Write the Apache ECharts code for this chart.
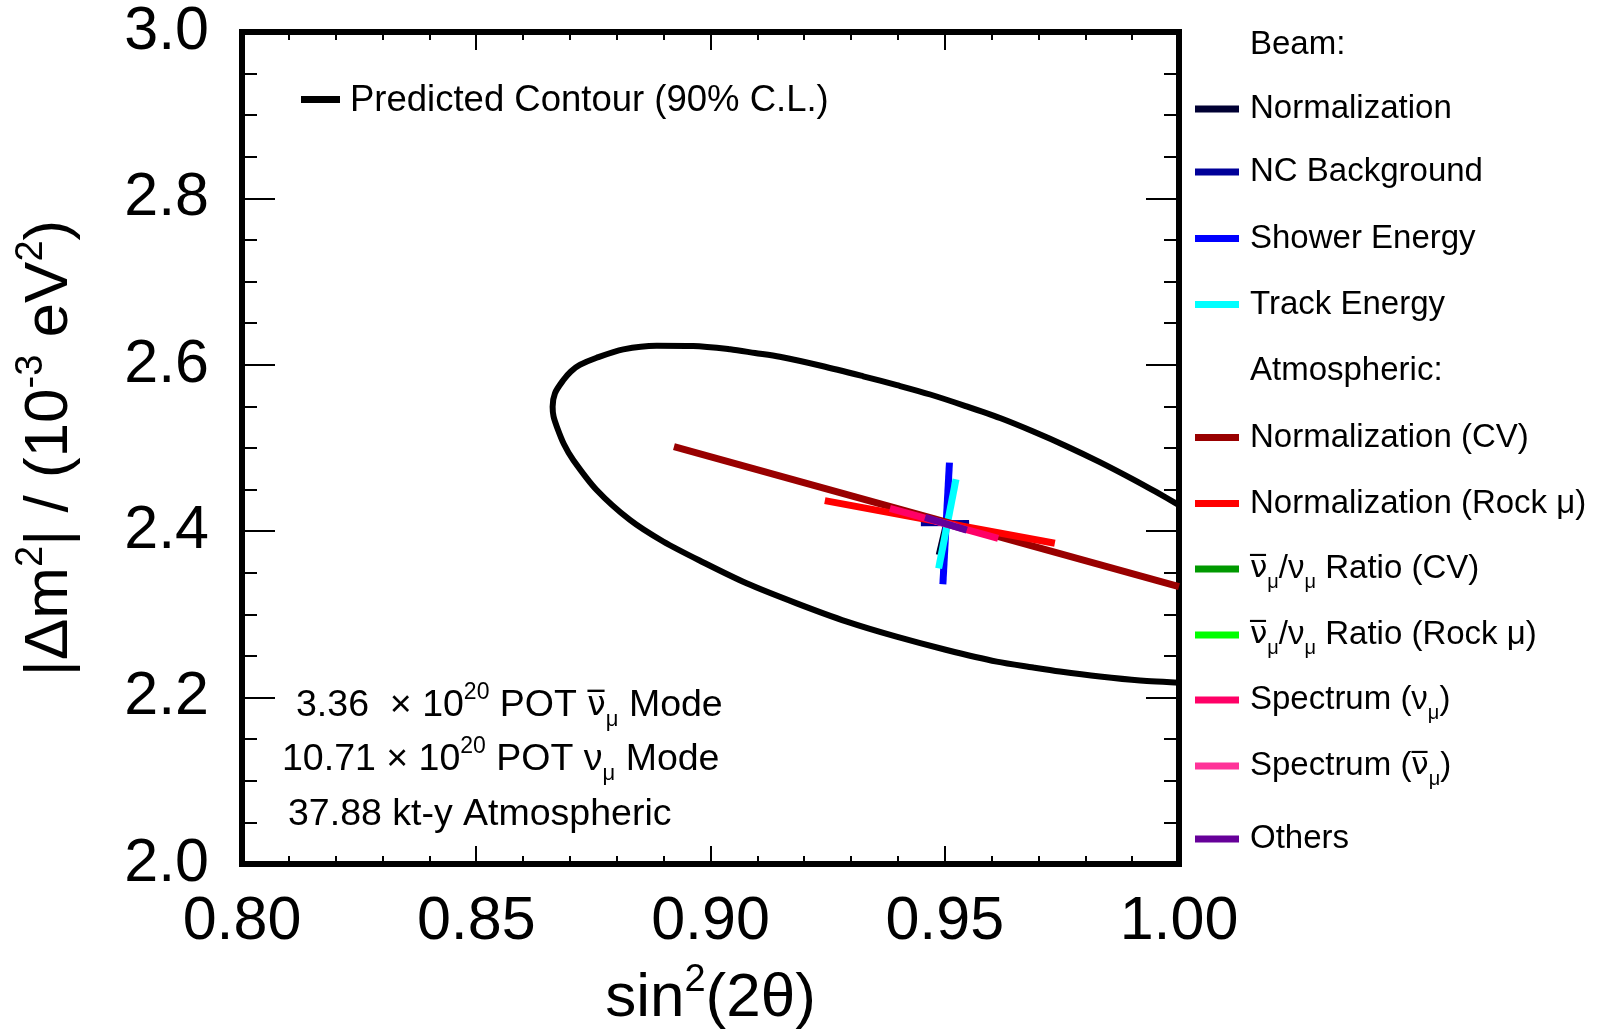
<!DOCTYPE html>
<html><head><meta charset="utf-8">
<script src="https://cdn.jsdelivr.net/npm/echarts@6/dist/echarts.min.js"></script>
<style>html,body{margin:0;padding:0;background:#fff}#c{width:1599px;height:1033px}</style>
</head><body><div id="c"></div>
<script>
const FONT = '"Liberation Sans", Arial, Helvetica, sans-serif';
const NBFONT = '"DejaVu Sans", "Liberation Sans", sans-serif';

// ---- tick labels ----
const xTickLabels = ['0.80', '0.85', '0.90', '0.95', '1.00'];
const yTickLabels = ['2.0', '2.2', '2.4', '2.6', '2.8', '3.0'];

// ---- predicted 90% C.L. contour (upper branch right->left, then lower branch left->right) ----
const contourX = [1.0000, 0.9952, 0.9902, 0.9831, 0.9760, 0.9689, 0.9618, 0.9543, 0.9469, 0.9398, 0.9326, 0.9238,
                  0.9148, 0.9095, 0.9042, 0.8963, 0.8885, 0.8814, 0.8757, 0.8721, 0.8702, 0.8686, 0.8668, 0.8663,
                  0.8665, 0.8672, 0.8687, 0.8707, 0.8757, 0.8828, 0.8899, 0.8985, 0.9077, 0.9184, 0.9291, 0.9397,
                  0.9504, 0.9611, 0.9689, 0.9746, 0.9831, 0.9917, 1.0000];
const contourY = [2.4314, 2.4469, 2.4624, 2.4831, 2.5022, 2.5198, 2.5360, 2.5507, 2.5643, 2.5755, 2.5862, 2.5986,
                  2.6097, 2.6142, 2.6186, 2.6226, 2.6230, 2.6186, 2.6085, 2.5998, 2.5920, 2.5817, 2.5658, 2.5496,
                  2.5379, 2.5256, 2.5048, 2.4856, 2.4495, 2.4135, 2.3876, 2.3624, 2.3374, 2.3133, 2.2913, 2.2732,
                  2.2572, 2.2432, 2.2362, 2.2314, 2.2254, 2.2206, 2.2179];

// ---- systematic shifts (segment end points) ----
const sysNames = ['Beam Normalization', 'NC Background', 'Shower Energy', 'Track Energy',
                  'Atm. Normalization (CV)', 'Atm. Normalization (Rock mu)', 'Ratio (CV)', 'Ratio (Rock mu)',
                  'Spectrum (numu)', 'Spectrum (numubar)', 'Others'];
const sysX = [[0.9484, 0.9500], [0.9449, 0.9552], [0.9510, 0.9496], [0.9524, 0.9487],
              [0.8922, 1.0000], [0.9244, 0.9735], [0.9501, 0.9501], [0.9501, 0.9501],
              [0.9383, 0.9614], [0.9480, 0.9525], [0.9458, 0.9547]];
const sysY = [[2.3720, 2.4100], [2.4095, 2.4100], [2.4824, 2.3362], [2.4624, 2.3554],
              [2.5016, 2.3333], [2.4367, 2.3855], [2.4095, 2.4095], [2.4095, 2.4095],
              [2.4275, 2.3915], [2.4125, 2.4055], [2.4167, 2.4014]];
// legend labels (rich text)
const sysLabels = ['{t|Normalization}', '{t|NC Background}', '{t|Shower Energy}', '{t|Track Energy}',
                   '{t|Normalization (CV)}', '{t|Normalization (Rock μ)}',
                   '{nb|ν\u0305}{s|μ}{t|/ν}{s|μ}{t| Ratio (CV)}', '{nb|ν\u0305}{s|μ}{t|/ν}{s|μ}{t| Ratio (Rock μ)}',
                   '{t|Spectrum (ν}{s|μ}{t|)}', '{t|Spectrum (}{nb|ν\u0305}{s|μ}{t|)}', '{t|Others}'];
const legendRows = ['Beam:', 0, 1, 2, 3, 'Atmospheric:', 4, 5, 6, 7, 8, 9, 10];

// ---- annotation texts ----
const contourLabel = 'Predicted Contour (90% C.L.)';
const infoLines = ['{t|3.36  × 10}{sup|20}{t| POT }{nb|ν\u0305}{sub|μ}{t| Mode}',
                   '{t|10.71 × 10}{sup|20}{t| POT ν}{sub|μ}{t| Mode}',
                   '{t|37.88 kt-y Atmospheric}'];

// ---- styles / layout ----
const sysColors = ['#000033', '#000099', '#0000ff', '#00ffff', '#990000', '#ff0000', '#009900', '#00ff00', '#ff0066', '#ff3399', '#660099'];
const sysWidths = [3, 6, 7, 7, 7, 7, 7, 7, 7, 7, 7];
const legendRowY = [44.5, 109, 172, 238.5, 304.5, 370.5, 437.5, 503.5, 569, 635, 700, 766, 839];

const chart = echarts.init(document.getElementById('c'), null, {renderer: 'canvas'});

function axisCommon(isX, showLabels) {
  return {
    type: 'value',
    min: isX ? 0.8 : 2.0,
    max: isX ? 1.0 : 3.0,
    interval: isX ? 0.05 : 0.2,
    axisLine: {show: true, lineStyle: {color: '#000', width: 6, cap: 'square'}},
    axisTick: {show: true, inside: true, length: isX ? 18 : 33, lineStyle: {color: '#000', width: 2}},
    minorTick: {show: true, splitNumber: isX ? 5 : 4, length: isX ? 8 : 15, lineStyle: {color: '#000', width: 2}},
    splitLine: {show: false},
    minorSplitLine: {show: false},
    axisLabel: {
      show: showLabels,
      fontSize: 61, fontFamily: FONT, color: '#000',
      margin: isX ? 28 : 33,
      showMinLabel: true, showMaxLabel: true,
      formatter: function (v) {
        if (isX) return xTickLabels[Math.round((v - 0.8) / 0.05)] || '';
        return yTickLabels[Math.round((v - 2.0) / 0.2)] || '';
      }
    }
  };
}

const titleRich = {
  t: {fontFamily: FONT, fontSize: 62, lineHeight: 74, color: '#000'},
  sup: {fontFamily: FONT, fontSize: 38, lineHeight: 38, verticalAlign: 'top', color: '#000'}
};
const xBottom = Object.assign(axisCommon(true, true), {
  position: 'bottom',
  name: '{t|sin}{sup|2}{t|(2θ)}',
  nameLocation: 'middle', nameGap: 98,
  nameTextStyle: {fontFamily: FONT, fontSize: 62, color: '#000', rich: titleRich}
});
const xTop = Object.assign(axisCommon(true, false), {position: 'top'});
const yLeft = Object.assign(axisCommon(false, true), {
  position: 'left',
  name: '{t||Δm}{sup|2}{t|| / (10}{sup|-3}{t| eV}{sup|2}{t|)}',
  nameLocation: 'middle', nameGap: 155, nameRotate: 90,
  nameTextStyle: {fontFamily: FONT, fontSize: 62, color: '#000', rich: titleRich}
});
const yRight = Object.assign(axisCommon(false, false), {position: 'right'});

const series = [{
  name: 'Predicted Contour',
  type: 'line',
  data: contourX.map((x, i) => [x, contourY[i]]),
  showSymbol: false, symbol: 'none',
  smooth: 0.3,
  lineStyle: {color: '#000', width: 6},
  z: 2, silent: true
}];
sysNames.forEach((n, i) => {
  series.push({
    name: n, type: 'line',
    data: [[sysX[i][0], sysY[i][0]], [sysX[i][1], sysY[i][1]]],
    showSymbol: false, symbol: 'none',
    lineStyle: {color: sysColors[i], width: sysWidths[i], cap: 'butt'},
    z: 3 + i, silent: true
  });
});

// ---- graphic: legend & annotations ----
const legendTextRich = {
  t: {fontFamily: FONT, fontSize: 33, lineHeight: 46, color: '#000'},
  nb: {fontFamily: NBFONT, fontSize: 31, lineHeight: 46, color: '#000'},
  s: {fontFamily: FONT, fontSize: 20, lineHeight: 20, verticalAlign: 'bottom', color: '#000'}
};
const graphics = [];
legendRows.forEach((r, k) => {
  const y = legendRowY[k];
  if (typeof r === 'string') {
    graphics.push({type: 'text', x: 1250, y: y, style: {
      text: '{t|' + r + '}', rich: legendTextRich, align: 'left', verticalAlign: 'middle',
      textAlign: 'left', textVerticalAlign: 'middle'}});
  } else {
    graphics.push({type: 'line', shape: {x1: 1195, y1: y, x2: 1239, y2: y},
      style: {stroke: sysColors[r], lineWidth: 7}});
    graphics.push({type: 'text', x: 1250, y: y, style: {
      text: sysLabels[r], rich: legendTextRich, align: 'left', verticalAlign: 'middle',
      textAlign: 'left', textVerticalAlign: 'middle'}});
  }
});
graphics.push({type: 'line', shape: {x1: 301, y1: 99.5, x2: 340, y2: 99.5}, style: {stroke: '#000', lineWidth: 7}});
graphics.push({type: 'text', x: 350, y: 101, style: {
  text: '{t|' + contourLabel + '}',
  rich: {t: {fontFamily: FONT, fontSize: 36.5, lineHeight: 44, color: '#000'}},
  align: 'left', verticalAlign: 'middle', textAlign: 'left', textVerticalAlign: 'middle'}});
const infoRich = {
  t: {fontFamily: FONT, fontSize: 37.5, lineHeight: 50, color: '#000'},
  nb: {fontFamily: NBFONT, fontSize: 33, lineHeight: 50, color: '#000'},
  sup: {fontFamily: FONT, fontSize: 23, lineHeight: 23, verticalAlign: 'top', color: '#000'},
  sub: {fontFamily: FONT, fontSize: 22, lineHeight: 22, verticalAlign: 'bottom', color: '#000'}
};
const infoPos = [[296, 706], [282, 760], [288, 815]];
infoLines.forEach((s, i) => {
  graphics.push({type: 'text', x: infoPos[i][0], y: infoPos[i][1], style: {
    text: s, rich: infoRich, align: 'left', verticalAlign: 'middle',
    textAlign: 'left', textVerticalAlign: 'middle'}});
});

chart.setOption({
  animation: false,
  backgroundColor: '#fff',
  grid: {left: 242, right: 420, top: 32, bottom: 169, containLabel: false, outerBoundsMode: 'none'},
  xAxis: [xBottom, xTop],
  yAxis: [yLeft, yRight],
  series: series,
  graphic: graphics
});
</script></body></html>
